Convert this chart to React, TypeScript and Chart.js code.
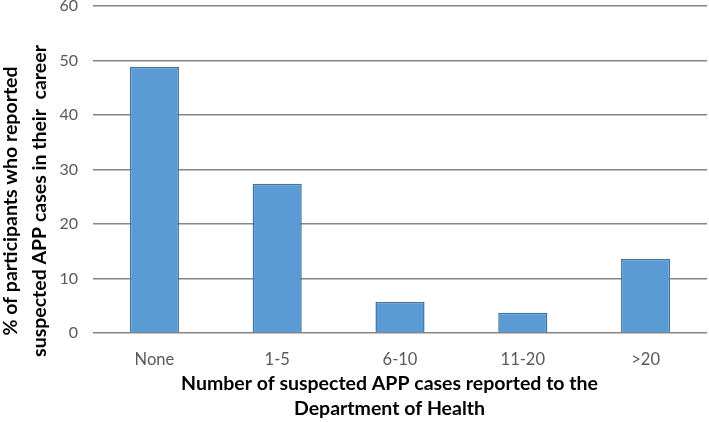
import React, { useEffect, useRef } from "react";
import { Chart, registerables } from "chart.js";

Chart.register(...registerables);

const categories = ["None", "1-5", "6-10", "11-20", ">20"];
const percentages = [48.8, 27.4, 5.7, 3.7, 13.6];
const yTitleLines = ["% of participants who reported", "suspected APP cases in their  career"];
const xTitleLines = ["Number of suspected APP cases reported to the", "Department of Health"];

const titleFont = "bold 19.5px Lato";

const axisTitlesPlugin = {
  id: "axisTitles",
  afterDraw(chart: any) {
    const { ctx, chartArea } = chart;
    ctx.save();
    ctx.font = titleFont;
    ctx.fillStyle = "#000";
    ctx.textAlign = "center";
    ctx.textBaseline = "middle";
    // x-axis title (two centered lines)
    const cx = (chartArea.left + chartArea.right) / 2 - 10.5;
    const xLineY = [chartArea.bottom + 51, chartArea.bottom + 76];
    xTitleLines.forEach((line, i) => ctx.fillText(line, cx, xLineY[i]));
    // y-axis title (rotated, two lines)
    const cy = chartArea.bottom - 132;
    const yLineX = [11, 40];
    yTitleLines.forEach((line, i) => {
      ctx.save();
      ctx.translate(yLineX[i], cy);
      ctx.rotate(-Math.PI / 2);
      ctx.fillText(line, 0, 0);
      ctx.restore();
    });
    ctx.restore();
  },
};

export default function App() {
  const canvasRef = useRef<HTMLCanvasElement | null>(null);

  useEffect(() => {
    document.body.style.margin = "0";
    const ctx = canvasRef.current;
    if (!ctx) return;
    const chart = new Chart(ctx, {
      type: "bar",
      data: {
        labels: categories,
        datasets: [
          {
            data: percentages,
            backgroundColor: "#5B9BD5",
            borderColor: "#41719C",
            borderWidth: 1.5,
            barPercentage: 0.4,
            categoryPercentage: 1,
          },
        ],
      },
      options: {
        animation: false,
        responsive: false,
        maintainAspectRatio: false,
        layout: { padding: { top: 6, right: 2, left: 0, bottom: 0 } },
        plugins: { legend: { display: false }, tooltip: { enabled: false } },
        scales: {
          x: {
            grid: { display: false, drawTicks: false },
            border: { display: false },
            ticks: { color: "#595959", font: { family: "Lato", size: 16.5 }, padding: 17 },
            title: { display: false },
            afterFit: (scale: any) => {
              scale.height = 89;
            },
          },
          y: {
            min: 0,
            max: 60,
            ticks: { stepSize: 10, color: "#595959", font: { family: "Lato", size: 16 }, padding: 15 },
            grid: { color: "#868686", lineWidth: 1.5, drawTicks: false },
            border: { display: false },
            title: { display: false },
            afterFit: (scale: any) => {
              scale.width = 93;
              scale.paddingTop = 0;
              scale.paddingBottom = 0;
            },
          },
        },
      },
      plugins: [axisTitlesPlugin],
    });
    return () => chart.destroy();
  }, []);

  return (
    <div style={{ width: 709, height: 422, background: "#fff" }}>
      <canvas ref={canvasRef} width={709} height={422} style={{ width: 709, height: 422 }} />
    </div>
  );
}
